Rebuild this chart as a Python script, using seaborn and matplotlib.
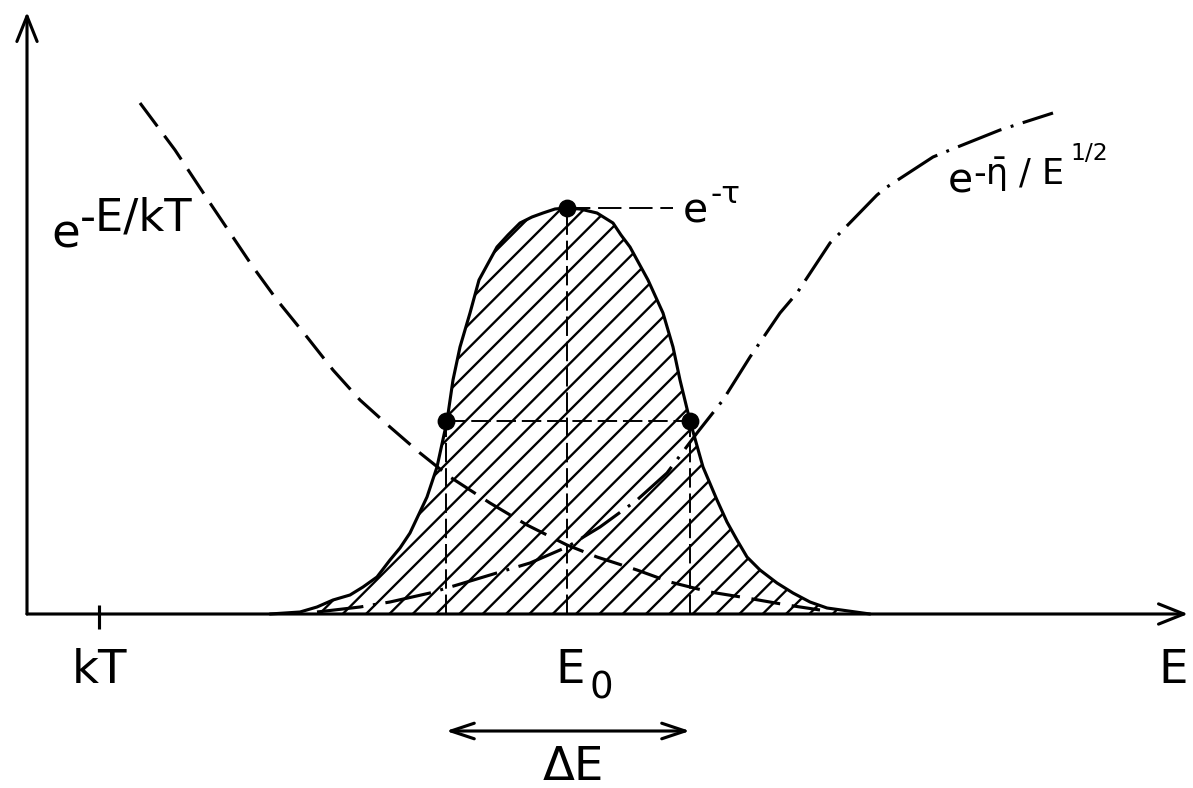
import matplotlib
matplotlib.use("Agg")
import matplotlib.pyplot as plt
import seaborn as sns

# ---- values (energy units along x, probability along y) ----
gamow_E = [243, 273, 290, 306, 323, 336, 350, 363, 373, 383, 400, 410, 420, 426, 433, 443,
           452, 470, 481, 493, 505, 516, 528, 540, 553, 570, 586, 594, 603, 621, 636, 646,
           653, 663, 676, 690, 700, 710, 720, 733, 750, 766, 783, 800, 843]
gamow_P = [0, 2, 7, 14, 19, 27, 37, 54, 66, 81, 117, 147, 193, 234, 267, 301,
           334, 367, 379, 391, 397, 401, 405, 406, 405, 401, 391, 379, 367, 334, 301, 267,
           234, 193, 147, 114, 92, 74, 57, 44, 31, 21, 12, 6, 0]

boltz_E = [113, 148, 183, 226, 250, 280, 306, 333, 363, 393, 423, 463, 500, 540, 570, 610,
           643, 683, 720, 760, 793]
boltz_P = [511, 464, 411, 347, 314, 277, 244, 214, 187, 161, 137, 111, 89, 69, 57, 44,
           32, 22, 16, 9, 4]

tunnel_E = [290, 333, 363, 403, 430, 473, 503, 540, 573, 610, 640, 670, 696, 723, 753, 770,
            803, 813, 850, 860, 906, 923, 973, 1026]
tunnel_P = [2, 7, 12, 21, 29, 42, 51, 67, 87, 114, 141, 181, 214, 257, 301, 321,
            371, 381, 419, 427, 457, 464, 484, 501]

E0 = 540
peak_level = 406
half_E = [419, 663]
half_level = 193
kT = 72

tick_labels = {"kT": "kT", "E0": "E", "E0_sub": "0", "axis": "E", "width": "ΔE"}

# ---- style ----
sns.set_theme(style="white")
plt.rcParams["font.family"] = ["DejaVu Sans"]
plt.rcParams["mathtext.fontset"] = "dejavusans"
plt.rcParams["text.color"] = "black"
plt.rcParams["hatch.linewidth"] = 1.2
plt.rcParams["lines.scale_dashes"] = False

DPI = 140
fig = plt.figure(figsize=(1193 / DPI, 788 / DPI), dpi=DPI)
ax = fig.add_axes([0, 0, 1, 1])
ax.set_xlim(-27, 1166)
ax.set_ylim(-174, 614)
ax.axis("off")

LW = 1.6

# hatched Gamow peak
ax.fill_between(gamow_E, gamow_P, 0, facecolor="white", edgecolor="black",
                hatch="//", linewidth=0, zorder=1)
sns.lineplot(x=gamow_E, y=gamow_P, sort=False, estimator=None, color="black",
             linewidth=LW, ax=ax, zorder=4)

# Boltzmann factor (dashed)
sns.lineplot(x=boltz_E, y=boltz_P, sort=False, estimator=None, color="black",
             linewidth=LW, linestyle=(0, (15, 6)), ax=ax, zorder=3)

# tunnelling factor (dash-dot)
sns.lineplot(x=tunnel_E, y=tunnel_P, sort=False, estimator=None, color="black",
             linewidth=LW, linestyle=(0, (24, 5, 1.5, 5)), ax=ax, zorder=3)

# helper dashed lines
hl = dict(color="black", linewidth=1.0, linestyles=[(0, (10, 3))], zorder=2)
ax.vlines([E0], 0, peak_level, **hl)
ax.vlines(half_E, 0, half_level, **hl)
ax.hlines([half_level], half_E[0], half_E[1], **hl)
ax.hlines([peak_level], E0, 646, colors="black", linewidth=1.0,
          linestyles=[(0, (12, 4))], zorder=2)

# markers
sns.scatterplot(x=half_E + [E0], y=[half_level, half_level, peak_level], color="black",
                s=70, edgecolor="black", linewidth=0.8, ax=ax, zorder=6)

# axes with arrow heads
arr = dict(arrowstyle="->,head_length=0.65,head_width=0.26", lw=LW, color="black",
           mutation_scale=20, shrinkA=0, shrinkB=0)
ax.annotate("", xy=(0, 602), xytext=(0, 0), arrowprops=arr)
ax.annotate("", xy=(1161, 0), xytext=(0, 0), arrowprops=arr)

# kT tick
ax.vlines([kT], -15, 9, color="black", linewidth=LW)

# Delta E arrow
ax.annotate("", xy=(half_E[1], -117), xytext=(half_E[0], -117),
            arrowprops=dict(arrowstyle="<->,head_length=0.6,head_width=0.2", lw=LW,
                            color="black", mutation_scale=20, shrinkA=0, shrinkB=0))

# labels
ax.text(kT, -69, tick_labels["kT"], ha="center", va="baseline", fontsize=24)
ax.text(E0 + 3, -69, tick_labels["E0"], ha="center", va="baseline", fontsize=24)
ax.text(E0 + 34, -84, tick_labels["E0_sub"], ha="center", va="baseline", fontsize=19)
ax.text(1146, -69, tick_labels["axis"], ha="center", va="baseline", fontsize=24)
ax.text(sum(half_E) / 2 + 5, -166, tick_labels["width"], ha="center", va="baseline",
        fontsize=24)

ax.text(24, 367, "e", ha="left", va="baseline", fontsize=24)
ax.text(53, 384, "-E/kT", ha="left", va="baseline", fontsize=23)

ax.text(656, 392, "e", ha="left", va="baseline", fontsize=21)
ax.text(683, 411, "-τ", ha="left", va="baseline", fontsize=16)

ax.text(921, 422, "e", ha="left", va="baseline", fontsize=21)
ax.text(946, 429, r"-$\mathrm{\bar{\eta}}$ / E", ha="left", va="baseline", fontsize=18)
ax.text(1043, 454, "1/2", ha="left", va="baseline", fontsize=12)

fig.savefig("out.png", dpi=DPI, facecolor="white")
